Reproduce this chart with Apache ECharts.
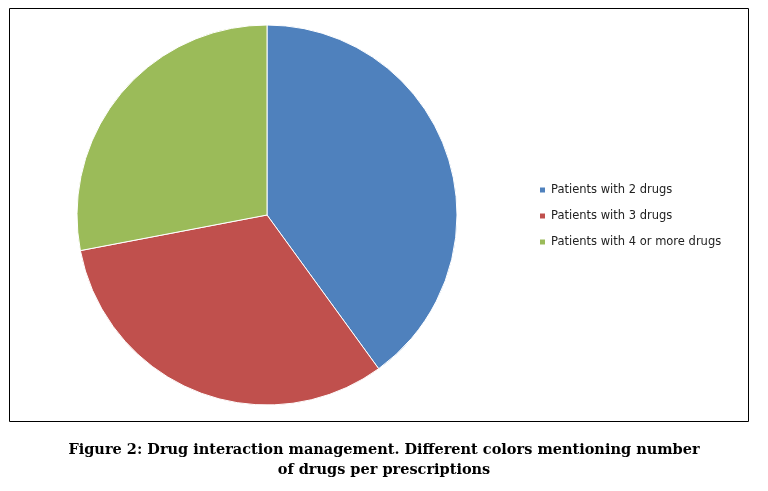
<!DOCTYPE html>
<html>
<head>
<meta charset="utf-8">
<script src="https://cdn.jsdelivr.net/npm/echarts@6/dist/echarts.min.js"></script>
<style>
  html, body { margin: 0; padding: 0; background: #fff; }
  #chart { width: 768px; height: 491px; }
</style>
</head>
<body>
<div id="chart"></div>
<script>
// Slice names and shares (percent)
const categories = ['Patients with 2 drugs', 'Patients with 3 drugs', 'Patients with 4 or more drugs'];
const values = [40, 32, 28];
const colors = ['#4f81bd', '#c0504d', '#9bbb59'];

const chart = echarts.init(document.getElementById('chart'));

chart.setOption({
  animation: false,
  color: colors,
  legend: {
    orient: 'vertical',
    left: 533,
    top: 179,
    itemWidth: 7,
    itemHeight: 7,
    itemGap: 14,
    icon: 'rect',
    textStyle: { fontFamily: 'DejaVu Sans', fontSize: 11.5, color: '#222' },
    data: categories
  },
  graphic: [
    {
      type: 'rect',
      shape: { x: 9.5, y: 8.5, width: 739, height: 413 },
      style: { fill: 'none', stroke: '#000', lineWidth: 1 }
    },
    {
      type: 'text',
      x: 384, y: 440,
      style: {
        text: 'Figure 2: Drug interaction management. Different colors mentioning number\nof drugs per prescriptions',
        fontFamily: 'DejaVu Serif', fontWeight: 'bold', fontSize: 14.5,
        lineHeight: 20, align: 'center', fill: '#000'
      }
    }
  ],
  series: [{
    type: 'pie',
    center: [267, 215],
    radius: 190,
    startAngle: 90,
    clockwise: true,
    label: { show: false },
    labelLine: { show: false },
    itemStyle: { borderColor: '#fff', borderWidth: 1 },
    data: categories.map((name, i) => ({ name, value: values[i] }))
  }]
});
</script>
</body>
</html>
